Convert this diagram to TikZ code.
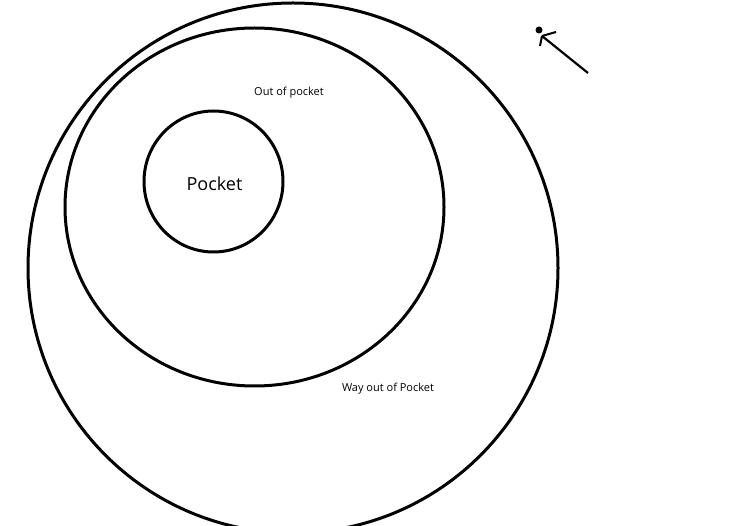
\documentclass[tikz,border=0pt]{standalone}
\usepackage{fontspec}
\setmainfont{Open Sans}
\begin{document}
\begin{tikzpicture}[x=1pt,y=-1pt,
  ring/.style={draw=black,line width=3pt},
  lbl/.style={inner sep=0pt,text=black}]
\useasboundingbox[fill=white] (0,0) rectangle (750,526);
\begin{scope}
\clip (0,0) rectangle (750,526);
\draw[ring] (293,268) ellipse [x radius=265, y radius=265];
\end{scope}
\draw[ring] (254.5,207) ellipse [x radius=189.5, y radius=179];
\draw[ring] (213.5,181.5) ellipse [x radius=69.5, y radius=70.5];
\node[lbl,font=\fontsize{18}{21}\selectfont] (pocket) at (214.5,184) {Pocket};
\node[lbl,font=\fontsize{11}{13}\selectfont] (out) at (289,93) {Out of pocket};
\node[lbl,font=\fontsize{11}{13}\selectfont] (way) at (388,389) {Way out of Pocket};
\coordinate (tail) at (588,73);
\coordinate (tip) at (542,36);
\coordinate (h1) at (556,32);
\coordinate (h2) at (540,46);
\draw[line width=2.2pt] (tail) -- (tip);
\draw[line width=2pt] (tip) -- (h1);
\draw[line width=2pt] (tip) -- (h2);
\fill (539,30) circle (3.5);
\end{tikzpicture}
\end{document}
